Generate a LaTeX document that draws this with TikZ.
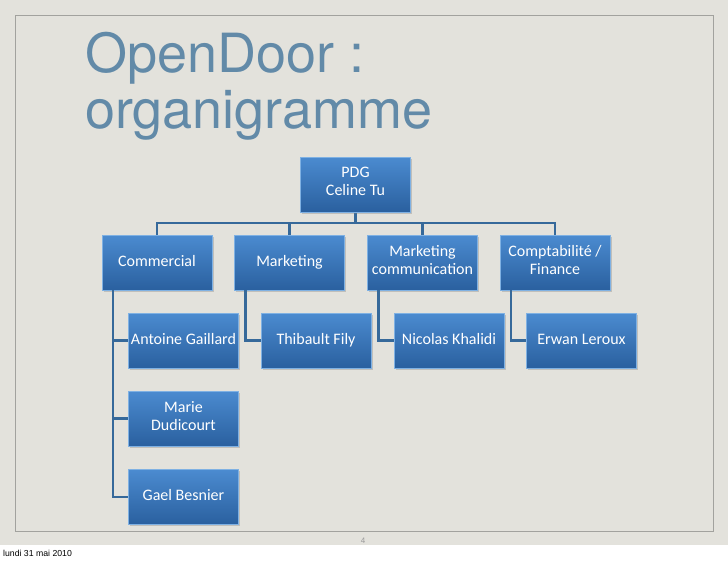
\documentclass[tikz,border=0pt]{standalone}
\usepackage{fontspec}
\setmainfont{Carlito}
\newfontfamily\titlefont{TeX Gyre Heros}
\newfontfamily\datefont{Liberation Sans}
\usetikzlibrary{shadows}

\definecolor{slide}{HTML}{E3E2DC}
\definecolor{frame}{HTML}{A2A29E}
\definecolor{titleblue}{HTML}{628AA8}
\definecolor{boxtop}{HTML}{4B8BD0}
\definecolor{boxbot}{HTML}{2A609F}
\definecolor{boxrim}{HTML}{7FB1E3}
\definecolor{wirecol}{HTML}{36699A}

\tikzset{
  unit/.style={draw=boxrim, line width=0.8pt, top color=boxtop, bottom color=boxbot,
    minimum width=110pt, minimum height=55pt, inner sep=1pt, text=white,
    align=center, font=\fontsize{16}{18}\selectfont,
    execute at begin node=\strut, execute at end node=\strut,
    drop shadow={shadow xshift=1.5pt, shadow yshift=-1.5pt, opacity=0.35}},
  wire/.style={draw=wirecol, line width=2.6pt}
}

\begin{document}
\begin{tikzpicture}[x=1pt, y=-1pt]
  \useasboundingbox (0,0) rectangle (728,560);
  \fill[white] (0,0) rectangle (728,560);
  \fill[slide] (0,0) rectangle (728,545);
  \draw[frame, line width=0.8pt] (15,15) rectangle (713,531);

  % title
  \node[anchor=base west, inner sep=0, text=titleblue, font=\titlefont\fontsize{54}{56}\selectfont]
    (title1) at (85,72) {OpenDoor :};
  \node[anchor=base west, inner sep=0, text=titleblue, font=\titlefont\fontsize{54}{56}\selectfont]
    (title2) at (85,128) {organigramme};

  % links first, boxes on top
  \coordinate (pdgfoot) at (355.5,212);
  \foreach \x in {157,289.5,422.5,555} {
    \draw[wire] (pdgfoot) -- ++(0,11) -| (\x,236);
  }

  % boxes
  \node[unit] (pdg) at (355.5,184.5) {PDG\\Celine Tu};

  \node[unit] (com) at (157,262.5)   {Commercial};
  \node[unit] (mkt) at (289.5,262.5) {Marketing};
  \node[unit] (mco) at (422.5,262.5) {Marketing\\communication};
  \node[unit] (fin) at (555,262.5)   {Comptabilité /\\Finance};

  \foreach \d/\p in {com/antoine, com/marie, com/gael, mkt/thibault, mco/nicolas, fin/erwan} {
    \coordinate (\p-in) at ([xshift=11.5pt]\d.south west);
  }

  \node[unit] (antoine) at (183.5,340.5) {Antoine Gaillard};
  \node[unit] (marie)   at (183.5,418.5) {Marie\\Dudicourt};
  \node[unit] (gael)    at (183.5,497)   {Gael Besnier};
  \node[unit] (thibault) at (316,340.5)  {Thibault Fily};
  \node[unit] (nicolas)  at (449,340.5)  {Nicolas Khalidi};
  \node[unit] (erwan)    at (581.5,340.5) {Erwan Leroux};

  \foreach \p in {antoine, marie, gael, thibault, nicolas, erwan} {
    \draw[wire] (\p-in) |- (\p.west);
  }

  % footer
  \node[anchor=base, inner sep=0, text=gray!80, font=\datefont\fontsize{8}{9}\selectfont]
    (page) at (363,543) {4};
  \node[anchor=base west, inner sep=0, font=\datefont\fontsize{8.7}{10}\selectfont]
    (date) at (3,556) {lundi 31 mai 2010};
\end{tikzpicture}
\end{document}
